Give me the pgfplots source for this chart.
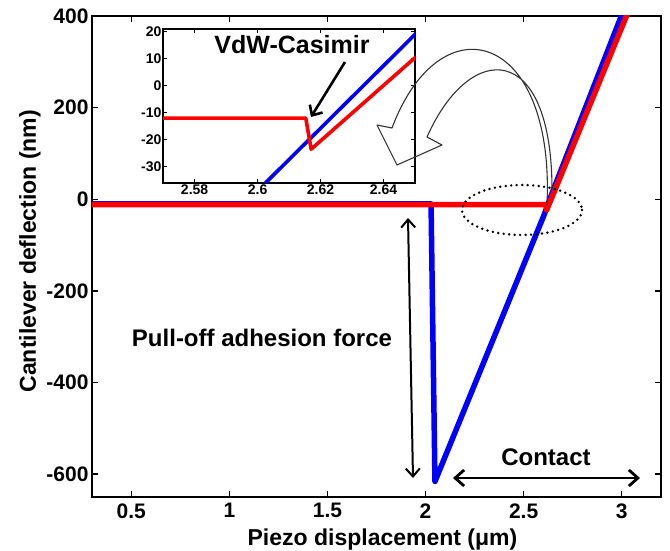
\documentclass[border=0pt]{standalone}
\usepackage{fontspec}
\setmainfont{Liberation Sans}
\usepackage{pgfplots}
\usepackage{pgfplotstable}
\pgfplotsset{compat=1.18}
\usetikzlibrary{arrows.meta}

% approach (red) and retraction (blue) curves
\pgfplotstableread{
x y
0.3 -10
2.028 -10
2.048 -616
2.6025 -36
2.65 19
3.016 420
}\bluedata

\pgfplotstableread{
x y
0.3 -12
2.6153 -12
2.617 -23.5
2.65 10.4
3.043 420
}\reddata

\begin{document}
\begin{tikzpicture}[font=\bfseries]
\begin{axis}[
  at={(0pt,0pt)}, anchor=south west,
  scale only axis, width=569pt, height=481pt,
  xmin=0.3, xmax=3.2, ymin=-650, ymax=400,
  xtick={0.5,1,1.5,2,2.5,3},
  ytick={-600,-400,-200,0,200,400},
  tick align=inside, major tick length=6pt,
  tick style={black, line width=1.3pt},
  axis line style={line width=1.8pt},
  /pgf/number format/assume math mode=true,
  tick label style={font=\bfseries\fontsize{21}{24}\selectfont},
  xticklabel style={yshift=-3pt},
  xlabel={Piezo displacement (μm)},
  ylabel={Cantilever deflection (nm)},
  label style={font=\bfseries\fontsize{23}{27}\selectfont},
  xlabel style={at={(axis description cs:0.5,0)}, anchor=base, yshift=-48pt, xshift=6pt},
  ylabel style={at={(axis description cs:-0.109,0.511)}, anchor=center},
]
\addplot[blue, line width=5.5pt, line join=round] table {\bluedata};
\addplot[red, line width=5.5pt, line join=round] table {\reddata};
\end{axis}

% inset
\begin{axis}[
  at={(71pt,314pt)}, anchor=south west,
  scale only axis, width=252pt, height=154pt,
  xmin=2.57, xmax=2.65, ymin=-36, ymax=21,
  xtick={2.58,2.6,2.62,2.64}, ytick={-30,-20,...,20},
  scaled ticks=false,
  axis background/.style={fill=white},
  tick align=inside, major tick length=4pt,
  tick style={black, line width=0.8pt},
  axis line style={line width=1.4pt},
  /pgf/number format/assume math mode=true,
  tick label style={font=\bfseries\fontsize{14}{16}\selectfont},
  yticklabel style={inner sep=1.5pt},
  xticklabel style={inner sep=2pt},
]
\addplot[blue, line width=3.6pt, line join=round] table {\bluedata};
\addplot[red, line width=3.6pt, line join=round] table {\reddata};
\end{axis}

% annotations, in pixel coordinates of the reference
\begin{scope}[x=1pt, y=-1pt, shift={(-92pt,497pt)}]
\draw[black!80, line width=1.1pt, line join=round]
  (547,205) .. controls (555,30) and (440,0) .. (392,128)
  -- (377,125) -- (397,165) -- (442,145) -- (427,137)
  .. controls (470,40) and (552,40) .. (552,190);
\draw[line width=2.7pt, dash pattern=on 0pt off 5.5pt, line cap=round]
  (522,210) ellipse [x radius=60, y radius=25];
\draw[line width=2.6pt, -{Straight Barb[length=8pt,width=15pt]}] (345,62) -- (311,117);
\draw[line width=2pt, {Straight Barb[length=8pt,width=14pt]}-{Straight Barb[length=8pt,width=14pt]}] (408,218) -- (413,478);
\draw[line width=2.8pt, {Straight Barb[length=9pt,width=16pt]}-{Straight Barb[length=9pt,width=16pt]}] (453,478) -- (640,478);
\node[font=\bfseries\fontsize{24}{28}\selectfont] at (262,338) {Pull-off adhesion force};
\node[font=\bfseries\fontsize{24}{28}\selectfont] at (546,457) {Contact};
\node[font=\bfseries\fontsize{25}{30}\selectfont] at (292,45) {VdW-Casimir};
\pgfresetboundingbox
\path[use as bounding box] (0,0) rectangle (670,550);
\end{scope}
\end{tikzpicture}
\end{document}
